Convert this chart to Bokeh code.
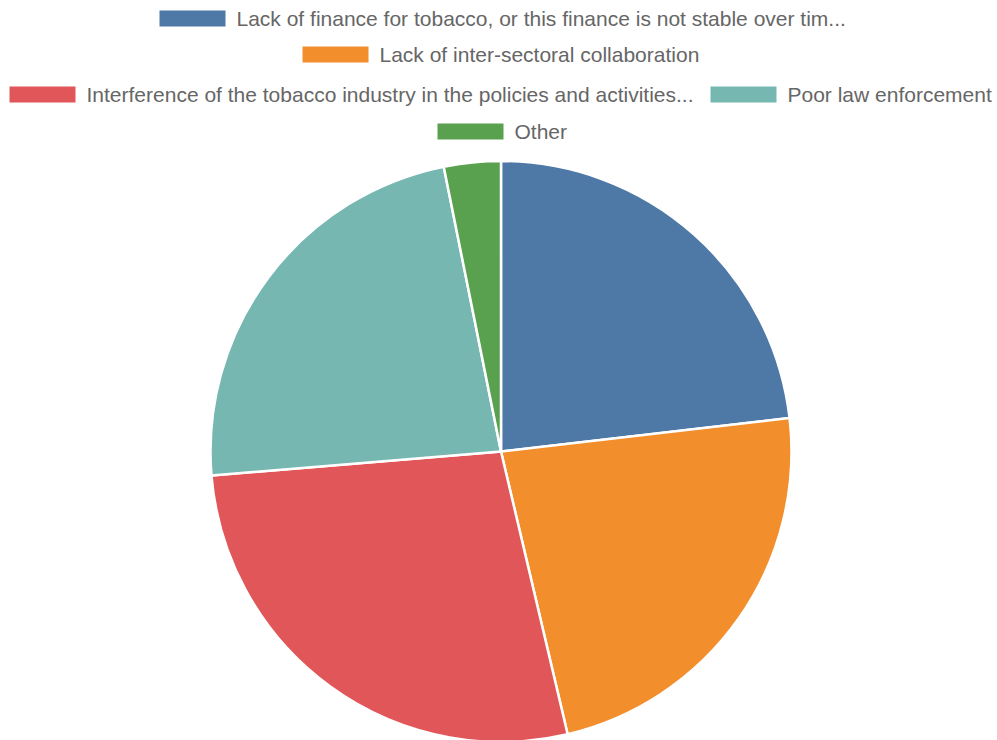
from math import pi
from bokeh.plotting import figure
from bokeh.models import Range1d, ColumnDataSource
from bokeh.core.properties import value
from bokeh.embed import file_html
from bokeh.resources import INLINE

categories = [
    "Lack of finance for tobacco, or this finance is not stable over tim...",
    "Lack of inter-sectoral collaboration",
    "Interference of the tobacco industry in the policies and activities...",
    "Poor law enforcement",
    "Other",
]
counts = [22, 22, 26, 22, 3]
colors = ["#4e79a7", "#f28e2b", "#e15759", "#76b7b2", "#59a14f"]

W, H = 997, 740
p = figure(width=W, height=H, output_backend="svg", toolbar_location=None,
           x_range=Range1d(0, W), y_range=Range1d(0, H),
           min_border=0, outline_line_color=None)
p.axis.visible = False
p.grid.visible = False
p.background_fill_color = "white"


def Y(img_y):
    return H - img_y


total = sum(counts)
starts, ends = [], []
a = pi / 2
for c in counts:
    starts.append(a)
    a -= 2 * pi * c / total
    ends.append(a)

src = ColumnDataSource(dict(start=starts, end=ends, color=colors))
p.wedge(x=500.5, y=Y(451), radius=290.5, start_angle="start", end_angle="end",
        direction="clock", fill_color="color", line_color="white", line_width=2.5,
        source=src)

# legend (manual layout, rows)
rows = [(159, 18, 0), (302, 54, 1), (9, 94, 2), (710, 94, 3), (437, 131, 4)]
for x0, yc, i in rows:
    p.quad(left=x0, right=x0 + 66, bottom=Y(yc + 8), top=Y(yc - 8),
           fill_color=colors[i], line_color=None)
    p.text(x=[x0 + 77], y=[Y(yc)], text=[categories[i]],
           text_font=value("Liberation Sans"), text_font_size="21px",
           text_color="#666666", text_baseline="middle", text_align="left")

open("out.html", "w").write(file_html(p, INLINE))
